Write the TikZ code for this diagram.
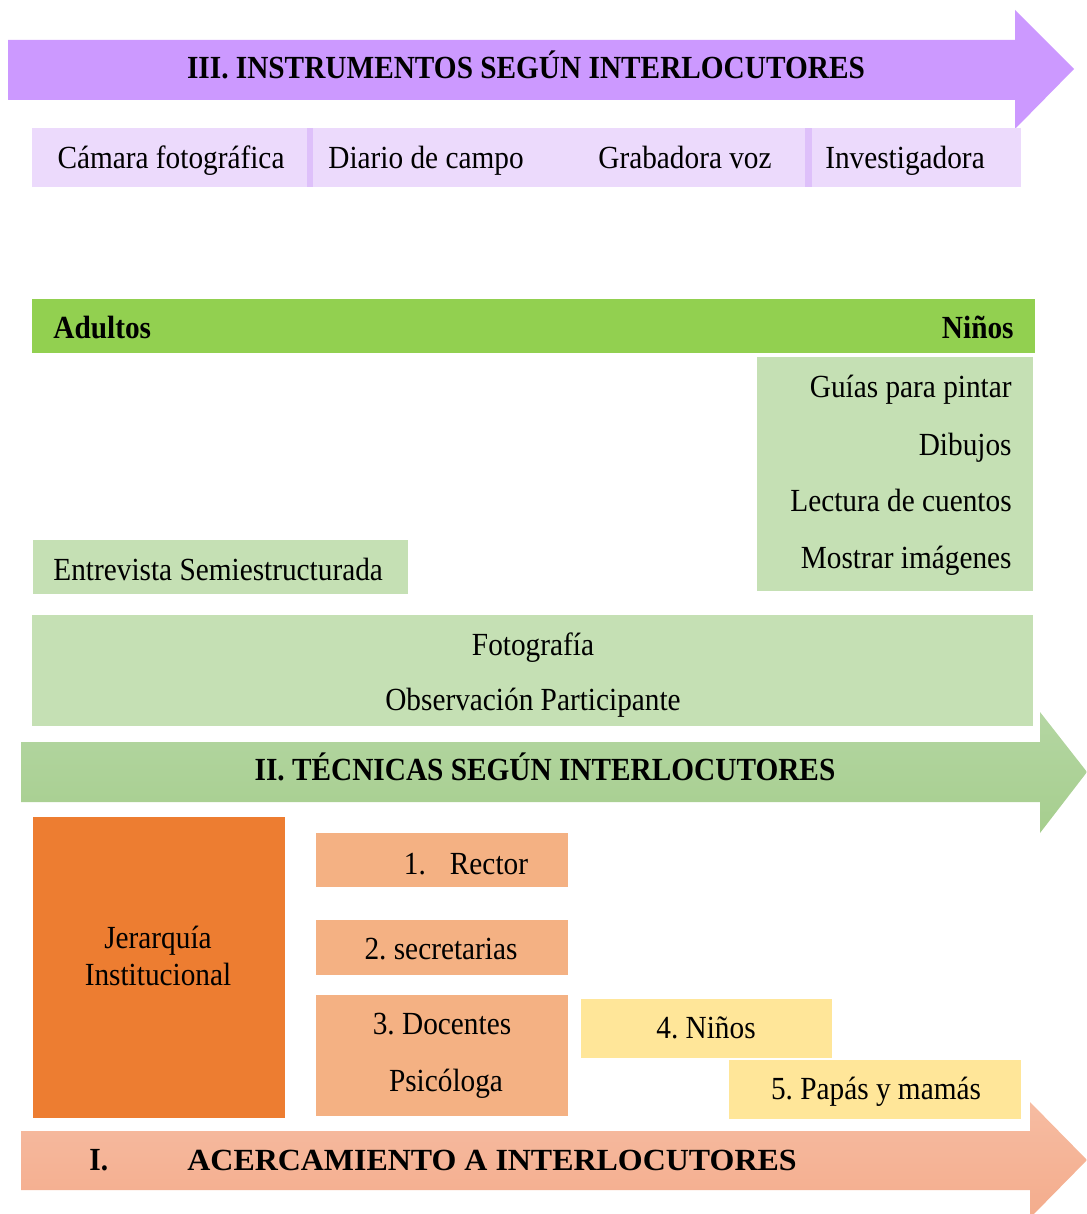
\documentclass[tikz,border=0pt]{standalone}
\usepackage{fontspec}
\setmainfont{Liberation Serif}
\frenchspacing
\definecolor{lilac}{RGB}{204,153,255}
\definecolor{lavender}{RGB}{236,218,252}
\definecolor{lavsep}{RGB}{222,192,250}
\definecolor{grass}{RGB}{146,208,80}
\definecolor{mint}{RGB}{197,224,180}
\definecolor{sageTop}{RGB}{180,214,162}
\definecolor{sageBot}{RGB}{166,206,142}
\definecolor{pumpkin}{RGB}{237,125,49}
\definecolor{salmon}{RGB}{244,177,131}
\definecolor{butter}{RGB}{255,230,153}
\definecolor{peachTop}{RGB}{246,188,162}
\definecolor{peachBot}{RGB}{244,172,140}
\newcommand{\tall}[1]{\scalebox{1}[1.1]{#1}}
\begin{document}
\begin{tikzpicture}[x=0.5pt,y=-0.5pt,
  txt/.style={font=\fontsize{14.65}{17}\selectfont, inner sep=0pt, anchor=mid, yshift=-3pt},
  btxt/.style={txt, font=\fontsize{14.65}{17}\selectfont\bfseries}]
\useasboundingbox (0,0) rectangle (1086,1214);

% ---- III. instruments ----
\fill[lilac] (8,40) -- (1015,40) -- (1015,10) -- (1074,69) -- (1015,129) -- (1015,100) -- (8,100) -- cycle;
\node[btxt] (t3) at (526,68) {\tall{III. INSTRUMENTOS SEGÚN INTERLOCUTORES}};

\fill[lavender] (32,128) rectangle (1021,187);
\fill[lavsep] (307,128) rectangle (313,187);
\fill[lavsep] (805,128) rectangle (812,187);
\node[txt] (camara) at (171,158) {\tall{Cámara fotográfica}};
\node[txt] (diario) at (426,158) {\tall{Diario de campo}};
\node[txt] (grab) at (685,158) {\tall{Grabadora voz}};
\node[txt] (inv) at (905,158) {\tall{Investigadora}};

% ---- audience bar ----
\fill[grass] (32,299) rectangle (1035,353);
\node[btxt, anchor=mid west] (adultos) at (53,328) {\tall{Adultos}};
\node[btxt, anchor=mid east] (ninos) at (1014,328) {\tall{Niños}};

% children techniques
\fill[mint] (757,357) rectangle (1033,591);
\node[txt, anchor=mid east] (guias) at (1012,387) {\tall{Guías para pintar}};
\node[txt, anchor=mid east] (dibujos) at (1012,445) {\tall{Dibujos}};
\node[txt, anchor=mid east] (lectura) at (1012,501) {\tall{Lectura de cuentos}};
\node[txt, anchor=mid east] (mostrar) at (1012,558) {\tall{Mostrar imágenes}};

% adults technique
\fill[mint] (33,540) rectangle (408,594);
\node[txt, anchor=mid west] (entrevista) at (53,570) {\tall{Entrevista Semiestructurada}};

% shared techniques
\fill[mint] (32,615) rectangle (1033,726);
\node[txt] (foto) at (533,645) {\tall{Fotografía}};
\node[txt] (obs) at (533,700) {\tall{Observación Participante}};

% ---- II. techniques ----
\shade[top color=sageTop, bottom color=sageBot] (21,742) -- (1040,742) -- (1040,712) -- (1087,772) -- (1040,833) -- (1040,802) -- (21,802) -- cycle;
\node[btxt] (t2) at (545,770) {\tall{II. TÉCNICAS SEGÚN INTERLOCUTORES}};

% ---- hierarchy ----
\fill[pumpkin] (33,817) rectangle (285,1118);
\node[txt] (jer1) at (158,938) {\tall{Jerarquía}};
\node[txt] (jer2) at (158,975) {\tall{Institucional}};

\fill[salmon] (316,833) rectangle (568,887);
\node[txt] (rector) at (466,864) {\tall{1.\hspace{12pt}Rector}};
\fill[salmon] (316,920) rectangle (568,975);
\node[txt] (secre) at (441,949) {\tall{2. secretarias}};
\fill[salmon] (316,995) rectangle (568,1116);
\node[txt] (doc) at (442,1024) {\tall{3. Docentes}};
\node[txt] (psico) at (446,1081) {\tall{Psicóloga}};

\fill[butter] (581,999) rectangle (832,1058);
\node[txt] (nin) at (706,1028) {\tall{4. Niños}};
\fill[butter] (729,1060) rectangle (1021,1119);
\node[txt] (papas) at (876,1089) {\tall{5. Papás y mamás}};

% ---- I. approach ----
\shade[top color=peachTop, bottom color=peachBot] (21,1131) -- (1030,1131) -- (1030,1102) -- (1087,1160) -- (1030,1218) -- (1030,1190) -- (21,1190) -- cycle;
\node[btxt, anchor=mid west] (t1n) at (89,1160) {\tall{I.}};
\node[btxt, anchor=mid west] (t1) at (187,1160) {\scalebox{1.09}[1.05]{ACERCAMIENTO A INTERLOCUTORES}};
\end{tikzpicture}
\end{document}
